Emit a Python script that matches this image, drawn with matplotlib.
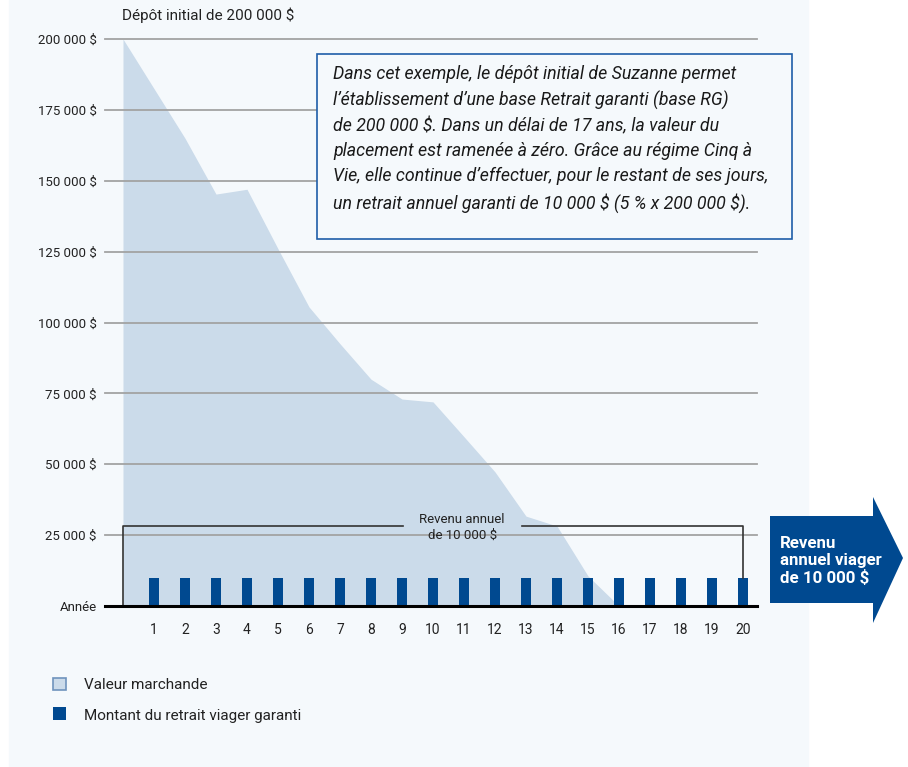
import matplotlib.pyplot as plt
from matplotlib.patches import Rectangle, Polygon

plt.rcParams['font.family'] = ['Roboto', 'DejaVu Sans']
plt.rcParams['text.parse_math'] = False

# valeur marchande par année
annees = list(range(0, 17))
valeur = [200000, 182500, 165000, 145300, 147000, 126000, 105500, 92500, 80000,
          73000, 72000, 59700, 47300, 31700, 28200, 10600, 0]

# retrait viager garanti
annees_retrait = list(range(1, 21))
retrait = [10000] * 20

y_ticks = [0, 25000, 50000, 75000, 100000, 125000, 150000, 175000, 200000]
y_labels = ['Année', '25 000 $', '50 000 $', '75 000 $', '100 000 $', '125 000 $',
            '150 000 $', '175 000 $', '200 000 $']

texte_boite = ("Dans cet exemple, le dépôt initial de Suzanne permet\n"
               "l’établissement d’une base Retrait garanti (base RG)\n"
               "de 200 000 $. Dans un délai de 17 ans, la valeur du\n"
               "placement est ramenée à zéro. Grâce au régime Cinq à\n"
               "Vie, elle continue d’effectuer, pour le restant de ses jours,\n"
               "un retrait annuel garanti de 10 000 $ (5 % x 200 000 $).")

bleu_clair = '#cbdbea'
bleu_fonce = '#004990'
fond = '#f5f9fc'
gris = '#a3a3a3'

W, H = 908, 767
fig = plt.figure(figsize=(W / 100, H / 100), dpi=100)
fig.patch.set_facecolor('white')
fig.add_artist(Rectangle((9 / W, 0), 799 / W, 1, transform=fig.transFigure,
                         color=fond, zorder=0))

ax = fig.add_axes([105 / W, 1 - 606 / H, 652 / W, 567 / H])
ax.patch.set_alpha(0)
ax.set_xlim(-18 / 31, 634 / 31)
ax.set_ylim(0, 200000)
for s in ax.spines.values():
    s.set_visible(False)

ax.fill_between(annees, valeur, 0, color=bleu_clair, lw=0, zorder=1)
for v in y_ticks[1:]:
    ax.axhline(v, color=gris, lw=1.3, zorder=2, clip_on=False)
ax.axhline(0, color='black', lw=2.2, zorder=4, clip_on=False)
ax.bar(annees_retrait, retrait, width=0.32, color=bleu_fonce, zorder=3)

ax.set_yticks(y_ticks)
ax.set_yticklabels(y_labels)
ax.set_xticks(annees_retrait)
ax.tick_params(axis='y', length=0, pad=6, labelsize=9.5, labelcolor='#222222')
ax.tick_params(axis='x', length=0, pad=12, labelsize=10, labelcolor='#222222')

# accolade "Revenu annuel"
ax.plot([0, 0, 9.03], [500, 28200, 28200], color='#333333', lw=1.2, zorder=3)
ax.plot([12.87, 20, 20], [28200, 28200, 10000], color='#333333', lw=1.2, zorder=3)
ax.text(10.94, 27600, 'Revenu annuel\nde 10 000 $', ha='center', va='center',
        fontsize=9.5, color='#222222', linespacing=1.3, zorder=5)

fig.text(122 / W, 1 - 15 / H, 'Dépôt initial de 200 000 $', ha='left', va='center',
         fontsize=11, color='#222222')

# boîte de texte
fig.add_artist(Rectangle((317 / W, 1 - 239 / H), 475 / W, 185 / H,
                         transform=fig.transFigure, facecolor=fond,
                         edgecolor='#1f5ea8', lw=1.2, zorder=6))
fig.text(333 / W, 1 - 139 / H, texte_boite, ha='left', va='center',
         fontsize=12.8, style='italic', color='#1a1a1a', linespacing=1.5, zorder=7)

# flèche
pts = [(770, 516), (873, 516), (873, 497), (903, 558), (873, 623), (873, 603), (770, 603)]
fig.add_artist(Polygon([(x / W, 1 - y / H) for x, y in pts], closed=True,
                       transform=fig.transFigure, color=bleu_fonce, lw=0, zorder=6))
fig.text(780 / W, 1 - 561 / H, 'Revenu\nannuel viager\nde 10 000 $', ha='left',
         va='center', fontsize=12.2, fontweight='bold', color='white',
         linespacing=1.15, zorder=7)

# légende
fig.add_artist(Rectangle((53 / W, 1 - 690 / H), 13 / W, 12 / H, transform=fig.transFigure,
                         facecolor=bleu_clair, edgecolor='#6f93bd', lw=1.2, zorder=6))
fig.add_artist(Rectangle((53 / W, 1 - 720 / H), 13 / W, 13 / H, transform=fig.transFigure,
                         facecolor=bleu_fonce, lw=0, zorder=6))
fig.text(84 / W, 1 - 685 / H, 'Valeur marchande', ha='left', va='center',
         fontsize=11, color='#222222')
fig.text(84 / W, 1 - 716 / H, 'Montant du retrait viager garanti', ha='left',
         va='center', fontsize=11, color='#222222')

fig.savefig('out.png', dpi=100)
